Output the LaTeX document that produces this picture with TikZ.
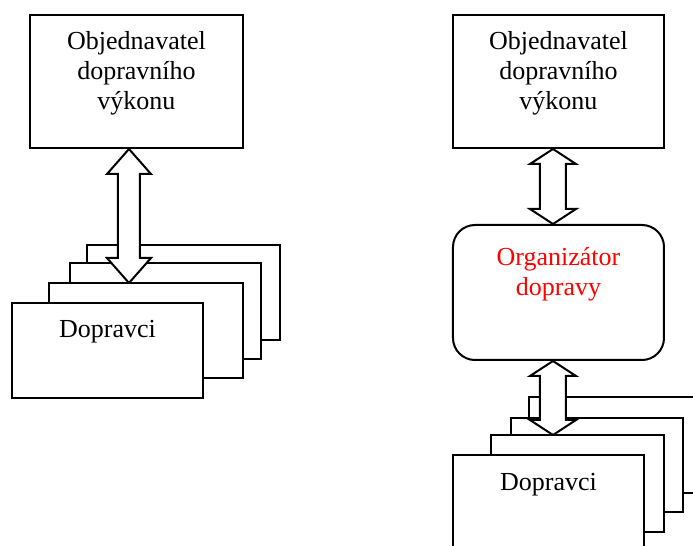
\documentclass[tikz,border=0pt]{standalone}
\usepackage{fontspec}
\setmainfont{Liberation Serif}
\usetikzlibrary{positioning,calc,fit}
\tikzstyle{diagram} = [x=0.5pt, y=-0.5pt]
\definecolor{organizerRed}{RGB}{255,0,0}
\tikzstyle{cardStyle} = [draw=black, fill=white, line width=1pt, inner sep=0pt]
\tikzstyle{organizerStyle} = [cardStyle, rounded corners=11pt]
\tikzstyle{arrowStyle} = [draw=black, fill=white, line width=1pt, line join=miter]
\tikzstyle{labelText} = [inner sep=0pt, align=center, anchor=north, font=\fontsize{13}{15}\selectfont]
\newcommand{\card}[5]{\node [cardStyle, fit={(#2,#3) (#4,#5)}] (#1) {};}
% #1 top tip, #2 bottom tip, #3 head half width, #4 shaft half width, #5 head length
\newcommand{\doubleArrow}[5]{\filldraw [arrowStyle] (#1) -- ($(#1)+(#3,#5)$) -- ($(#1)+(#4,#5)$) -- ($(#2)+(#4,-#5)$) -- ($(#2)+(#3,-#5)$) -- (#2) -- ($(#2)+(-#3,-#5)$) -- ($(#2)+(-#4,-#5)$) -- ($(#1)+(-#4,#5)$) -- ($(#1)+(-#3,#5)$) -- cycle;}

\begin{document}
\begin{tikzpicture}[diagram]
  \useasboundingbox (0,0) rectangle (693,546);
  \clip (0,0) rectangle (693,546);
  % left: client and carriers
  \card{leftClient}{30}{15}{243}{148}
  \card{leftCarrierD}{87}{245}{280}{340}
  \card{leftCarrierC}{70}{263}{261}{359}
  \coordinate (leftArrowTop) at ($(leftClient.south)+(-7.5,0)$);
  \coordinate (leftArrowBottom) at (leftArrowTop |- 0,283);
  \doubleArrow{leftArrowTop}{leftArrowBottom}{22}{11}{25}
  \card{leftCarrierB}{49}{283}{243}{378}
  \card{leftCarrierA}{12}{303}{203}{398}
  \node [labelText] (leftClientText) at (136.5,31.5) {Objednavatel\\dopravního\\výkonu};
  \node [labelText] (leftCarrierText) at (107.5,320) {Dopravci};
  % right: client, organizer and carriers
  \card{rightClient}{453}{15}{664}{148}
  \node [organizerStyle, fit={(453,225) (664,360)}] (organizer) {};
  \coordinate (rightArrowTop) at ($(rightClient.south)+(-5.5,0)$);
  \coordinate (rightArrowBottom) at (rightArrowTop |- organizer.north);
  \doubleArrow{rightArrowTop}{rightArrowBottom}{23}{13}{15}
  \card{rightCarrierD}{529}{397}{720}{493}
  \card{rightCarrierC}{511}{418}{683}{512}
  \coordinate (organizerArrowTop) at (rightArrowTop |- organizer.south);
  \coordinate (organizerArrowBottom) at (rightArrowTop |- 0,435);
  \doubleArrow{organizerArrowTop}{organizerArrowBottom}{23}{13}{15}
  \card{rightCarrierB}{491}{435}{664}{532}
  \card{rightCarrierA}{453}{455}{644}{550}
  \node [labelText] (rightClientText) at (558.5,31.5) {Objednavatel\\dopravního\\výkonu};
  \node [labelText, text=organizerRed] (organizerText) at (558.5,247) {Organizátor\\dopravy};
  \node [labelText] (rightCarrierText) at (548.5,473) {Dopravci};
\end{tikzpicture}
\end{document}
